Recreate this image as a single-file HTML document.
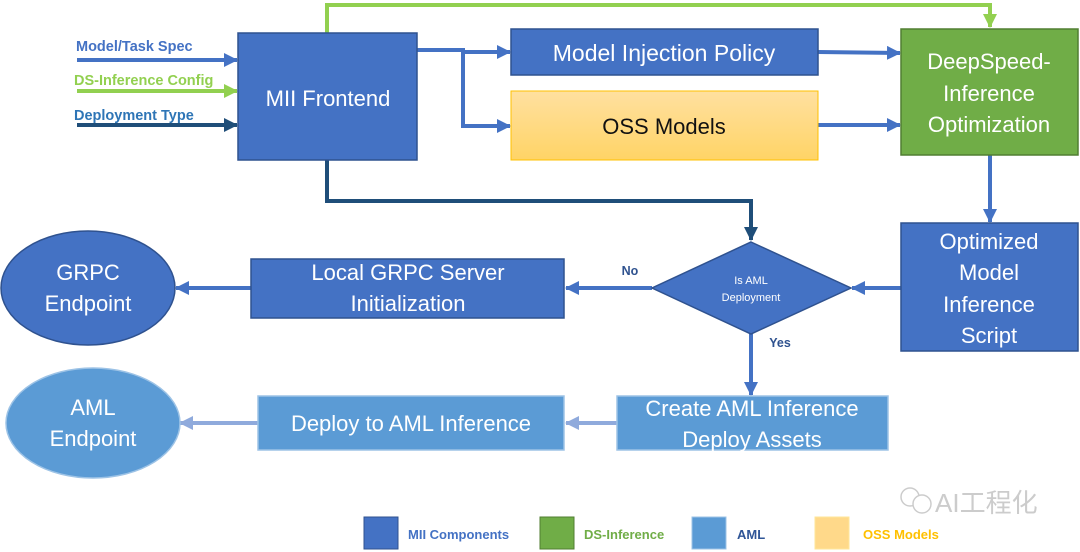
<!DOCTYPE html>
<html><head><meta charset="utf-8"><style>
html,body{margin:0;padding:0;background:#fff;}
svg{display:block;}
.t{font-family:"Liberation Sans",sans-serif;}
.b{font-family:"Liberation Sans","Noto Sans CJK SC",sans-serif;fill:#fff;}
</style></head><body>
<svg width="1080" height="552" viewBox="0 0 1080 552" xmlns="http://www.w3.org/2000/svg">
<defs>
<marker id="a1" markerWidth="14" markerHeight="14" refX="13" refY="7" orient="auto" markerUnits="userSpaceOnUse"><path d="M0,0 L14,7 L0,14z" fill="#4472C4"/></marker>
<marker id="a2" markerWidth="14" markerHeight="14" refX="13" refY="7" orient="auto" markerUnits="userSpaceOnUse"><path d="M0,0 L14,7 L0,14z" fill="#92D050"/></marker>
<marker id="a3" markerWidth="14" markerHeight="14" refX="13" refY="7" orient="auto" markerUnits="userSpaceOnUse"><path d="M0,0 L14,7 L0,14z" fill="#1F4E79"/></marker>
<marker id="a4" markerWidth="14" markerHeight="14" refX="13" refY="7" orient="auto" markerUnits="userSpaceOnUse"><path d="M0,0 L14,7 L0,14z" fill="#8FAADC"/></marker>
<linearGradient id="g" x1="0" y1="0" x2="0" y2="1"><stop offset="0" stop-color="#FFE0A0"/><stop offset="1" stop-color="#FFD466"/></linearGradient>
</defs>
<polyline points="327,33 327,5 990,5 990,27" fill="none" stroke="#92D050" stroke-width="4" marker-end="url(#a2)"/>
<polyline points="327,160 327,201 751,201 751,240" fill="none" stroke="#1F4E79" stroke-width="4" marker-end="url(#a3)"/>
<polyline points="417,50 463,50 463,126 510,126" fill="none" stroke="#4472C4" stroke-width="4" marker-end="url(#a1)"/>
<polyline points="463,52 510,52" fill="none" stroke="#4472C4" stroke-width="4" marker-end="url(#a1)"/>
<line x1="818" y1="52" x2="900" y2="53" stroke="#4472C4" stroke-width="4" marker-end="url(#a1)"/>
<line x1="818" y1="125" x2="900" y2="125" stroke="#4472C4" stroke-width="4" marker-end="url(#a1)"/>
<line x1="990" y1="155" x2="990" y2="222" stroke="#4472C4" stroke-width="4" marker-end="url(#a1)"/>
<line x1="901" y1="288" x2="852" y2="288" stroke="#4472C4" stroke-width="4" marker-end="url(#a1)"/>
<line x1="652" y1="288" x2="566" y2="288" stroke="#4472C4" stroke-width="4" marker-end="url(#a1)"/>
<line x1="251" y1="288" x2="176" y2="288" stroke="#4472C4" stroke-width="4" marker-end="url(#a1)"/>
<line x1="751" y1="334" x2="751" y2="395" stroke="#4472C4" stroke-width="4" marker-end="url(#a1)"/>
<line x1="617" y1="423" x2="566" y2="423" stroke="#8FAADC" stroke-width="4" marker-end="url(#a4)"/>
<line x1="258" y1="423" x2="180" y2="423" stroke="#8FAADC" stroke-width="4" marker-end="url(#a4)"/>
<line x1="77" y1="60" x2="237" y2="60" stroke="#4472C4" stroke-width="4" marker-end="url(#a1)"/>
<line x1="77" y1="91" x2="237" y2="91" stroke="#92D050" stroke-width="4" marker-end="url(#a2)"/>
<line x1="77" y1="125" x2="237" y2="125" stroke="#1F4E79" stroke-width="4" marker-end="url(#a3)"/>
<text class="t" x="76" y="51" font-size="14.5" font-weight="bold" fill="#4472C4">Model/Task Spec</text>
<text class="t" x="74" y="85" font-size="14.5" font-weight="bold" fill="#92D050">DS-Inference Config</text>
<text class="t" x="74" y="120" font-size="14.5" font-weight="bold" fill="#2E75B6">Deployment Type</text>
<rect x="238" y="33" width="179" height="127" fill="#4472C4" stroke="#2F528F" stroke-width="1.5"/>
<text class="b" x="328" y="106" font-size="22" text-anchor="middle">MII Frontend</text>
<rect x="511" y="29" width="307" height="46" fill="#4472C4" stroke="#2F528F" stroke-width="1.5"/>
<text class="b" x="664" y="61" font-size="23" text-anchor="middle">Model Injection Policy</text>
<rect x="511" y="91" width="307" height="69" fill="url(#g)" stroke="#FFC000" stroke-width="1"/>
<text class="b" x="664" y="134" font-size="22" text-anchor="middle" style="fill:#111">OSS Models</text>
<rect x="901" y="29" width="177" height="126" fill="#70AD47" stroke="#507E32" stroke-width="1.5"/>
<text class="b" x="989" y="69" font-size="22" text-anchor="middle">DeepSpeed-</text>
<text class="b" x="989" y="101" font-size="22" text-anchor="middle">Inference</text>
<text class="b" x="989" y="132" font-size="22" text-anchor="middle">Optimization</text>
<rect x="901" y="223" width="177" height="128" fill="#4472C4" stroke="#2F528F" stroke-width="1.5"/>
<text class="b" x="989" y="249" font-size="22" text-anchor="middle">Optimized</text>
<text class="b" x="989" y="280" font-size="22" text-anchor="middle">Model</text>
<text class="b" x="989" y="312" font-size="22" text-anchor="middle">Inference</text>
<text class="b" x="989" y="343" font-size="22" text-anchor="middle">Script</text>
<polygon points="751,242 851,288 751,334 652,288" fill="#4472C4" stroke="#2F528F" stroke-width="1.5"/>
<text class="b" x="751" y="284" font-size="11" text-anchor="middle">Is AML</text>
<text class="b" x="751" y="301" font-size="11" text-anchor="middle">Deployment</text>
<text class="t" x="630" y="275" font-size="12.5" font-weight="bold" fill="#2F528F" text-anchor="middle">No</text>
<text class="t" x="780" y="347" font-size="12.5" font-weight="bold" fill="#2F528F" text-anchor="middle">Yes</text>
<rect x="251" y="259" width="313" height="59" fill="#4472C4" stroke="#2F528F" stroke-width="1.5"/>
<text class="b" x="408" y="280" font-size="22" text-anchor="middle">Local GRPC Server</text>
<text class="b" x="408" y="311" font-size="22" text-anchor="middle">Initialization</text>
<ellipse cx="88" cy="288" rx="87" ry="57" fill="#4472C4" stroke="#2F528F" stroke-width="1.5"/>
<text class="b" x="88" y="280" font-size="22" text-anchor="middle">GRPC</text>
<text class="b" x="88" y="311" font-size="22" text-anchor="middle">Endpoint</text>
<rect x="617" y="396" width="271" height="54" fill="#5B9BD5" stroke="#9DC3E6" stroke-width="1.5"/>
<text class="b" x="752" y="416" font-size="22" text-anchor="middle">Create AML Inference</text>
<text class="b" x="752" y="447" font-size="22" text-anchor="middle">Deploy Assets</text>
<rect x="258" y="396" width="306" height="54" fill="#5B9BD5" stroke="#9DC3E6" stroke-width="1.5"/>
<text class="b" x="411" y="431" font-size="22" text-anchor="middle">Deploy to AML Inference</text>
<ellipse cx="93" cy="423" rx="87" ry="55" fill="#5B9BD5" stroke="#9DC3E6" stroke-width="1.5"/>
<text class="b" x="93" y="415" font-size="22" text-anchor="middle">AML</text>
<text class="b" x="93" y="446" font-size="22" text-anchor="middle">Endpoint</text>
<rect x="364" y="517" width="34" height="32" fill="#4472C4" stroke="#2F528F"/>
<text class="t" x="408" y="539" font-size="13" font-weight="bold" fill="#4472C4">MII Components</text>
<rect x="540" y="517" width="34" height="32" fill="#70AD47" stroke="#507E32"/>
<text class="t" x="584" y="539" font-size="13" font-weight="bold" fill="#70AD47">DS-Inference</text>
<rect x="692" y="517" width="34" height="32" fill="#5B9BD5" stroke="#9DC3E6"/>
<text class="t" x="737" y="539" font-size="13" font-weight="bold" fill="#2F5597">AML</text>
<rect x="815" y="517" width="34" height="32" fill="#FFD98A" stroke="#FFE699"/>
<text class="t" x="863" y="539" font-size="13" font-weight="bold" fill="#FFC000">OSS Models</text>
<text x="935" y="512" font-size="26" fill="#ccc" font-family="'Liberation Sans','Noto Sans CJK SC',sans-serif">AI工程化</text>
<circle cx="910" cy="497" r="9" fill="none" stroke="#ccc" stroke-width="1.5"/>
<circle cx="922" cy="504" r="9" fill="#fff" stroke="#ccc" stroke-width="1.5"/>
</svg>
</body></html>
